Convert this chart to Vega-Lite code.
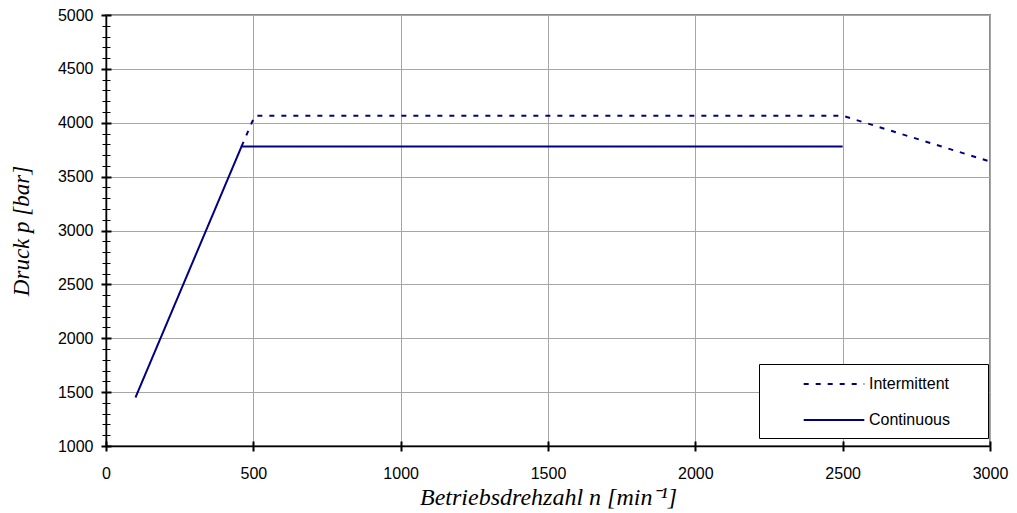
{
  "$schema": "https://vega.github.io/schema/vega-lite/v6.json",
  "width": 884,
  "height": 431,
  "autosize": {"type": "none"},
  "padding": {"left": 106, "top": 15, "right": 27, "bottom": 67},
  "background": "white",
  "config": {"view": {"stroke": "#8a8a8a", "strokeWidth": 2}, "font": "Liberation Sans"},
  "data": {"values": [
    {"n": 100, "p": 1450, "series": "Continuous"},
    {"n": 460, "p": 3780, "series": "Continuous"},
    {"n": 2500, "p": 3780, "series": "Continuous"},
    {"n": 460, "p": 3780, "series": "Intermittent"},
    {"n": 505, "p": 4065, "series": "Intermittent"},
    {"n": 2500, "p": 4065, "series": "Intermittent"},
    {"n": 3000, "p": 3640, "series": "Intermittent"}
  ]},
  "layer": [
    {
      "mark": {"type": "line", "strokeWidth": 2, "color": "#000080"},
      "encoding": {
        "x": {"field": "n", "type": "quantitative", "scale": {"domain": [0, 3000], "nice": false},
          "axis": {"orient": "bottom", "values": [0, 500, 1000, 1500, 2000, 2500, 3000], "format": "d", "labelFlush": false, "labelFont": "Liberation Sans", "labelFontSize": 16, "labelColor": "black", "labelPadding": 14, "tickSize": 5, "tickWidth": 2, "tickColor": "black", "domainColor": "black", "domainWidth": 1.5, "grid": true, "gridColor": "#a6a6a6", "gridWidth": 1,
            "title": "Betriebsdrehzahl n [min⁻¹]", "titleFont": "Liberation Serif", "titleFontStyle": "italic", "titleFontWeight": "normal", "titleFontSize": 24, "titleColor": "black", "titlePadding": 4}},
        "y": {"field": "p", "type": "quantitative", "scale": {"domain": [1000, 5000], "nice": false, "zero": false},
          "axis": {"orient": "left", "values": [1000, 1500, 2000, 2500, 3000, 3500, 4000, 4500, 5000], "format": "d", "labelFlush": false, "labelFont": "Liberation Sans", "labelFontSize": 16, "labelColor": "black", "labelPadding": 8, "tickSize": 5, "tickWidth": 2, "tickColor": "black", "domainColor": "black", "domainWidth": 1.5, "grid": true, "gridColor": "#a6a6a6", "gridWidth": 1,
            "title": "Druck p [bar]", "titleFont": "Liberation Serif", "titleFontStyle": "italic", "titleFontWeight": "normal", "titleFontSize": 23, "titleColor": "black", "titlePadding": 24}},
        "strokeDash": {"field": "series", "type": "nominal",
          "scale": {"domain": ["Intermittent", "Continuous"], "range": [[5, 7], [1, 0]]},
          "legend": {"title": "xx", "titleOrient": "right", "titleColor": "white", "titleFontSize": 16, "titlePadding": 10,
            "orient": "none", "legendX": 653, "legendY": 349, "fillColor": "white", "strokeColor": "black", "padding": 10,
            "symbolType": "M-3.5,0H3.5", "symbolSize": 300, "symbolStrokeColor": "#000080", "symbolStrokeWidth": 2, "symbolOffset": 55, "labelOffset": 25,
            "labelFont": "Liberation Sans", "labelFontSize": 16, "labelColor": "black", "rowPadding": 18}}
      }
    },
    {
      "mark": {"type": "line", "opacity": 0},
      "encoding": {
        "x": {"field": "n", "type": "quantitative", "scale": {"domain": [0, 3000], "nice": false},
          "axis": {"orient": "bottom", "offset": -5, "values": [0, 500, 1000, 1500, 2000, 2500, 3000], "labels": false, "domain": false, "grid": false, "tickSize": 5, "tickWidth": 2, "tickColor": "black", "title": null}},
        "y": {"field": "p", "type": "quantitative", "scale": {"domain": [1000, 5000], "nice": false, "zero": false},
          "axis": {"orient": "left", "offset": -5, "values": [1000, 1500, 2000, 2500, 3000, 3500, 4000, 4500, 5000], "labels": false, "domain": false, "grid": false, "tickSize": 5, "tickWidth": 2, "tickColor": "black", "title": null}},
        "detail": {"field": "series", "type": "nominal"}
      }
    },
    {
      "mark": {"type": "line", "opacity": 0},
      "encoding": {
        "x": {"field": "n", "type": "quantitative", "scale": {"domain": [0, 3000], "nice": false}, "axis": null},
        "y": {"field": "p", "type": "quantitative", "scale": {"domain": [1000, 5000], "nice": false, "zero": false},
          "axis": {"orient": "left", "values": [1100, 1200, 1300, 1400, 1600, 1700, 1800, 1900, 2100, 2200, 2300, 2400, 2600, 2700, 2800, 2900, 3100, 3200, 3300, 3400, 3600, 3700, 3800, 3900, 4100, 4200, 4300, 4400, 4600, 4700, 4800, 4900], "labels": false, "domain": false, "grid": false, "tickSize": 4, "tickWidth": 1, "tickColor": "black", "title": null}},
        "detail": {"field": "series", "type": "nominal"}
      }
    },
    {
      "mark": {"type": "line", "opacity": 0},
      "encoding": {
        "x": {"field": "n", "type": "quantitative", "scale": {"domain": [0, 3000], "nice": false}, "axis": null},
        "y": {"field": "p", "type": "quantitative", "scale": {"domain": [1000, 5000], "nice": false, "zero": false},
          "axis": {"orient": "left", "offset": -4, "values": [1100, 1200, 1300, 1400, 1600, 1700, 1800, 1900, 2100, 2200, 2300, 2400, 2600, 2700, 2800, 2900, 3100, 3200, 3300, 3400, 3600, 3700, 3800, 3900, 4100, 4200, 4300, 4400, 4600, 4700, 4800, 4900], "labels": false, "domain": false, "grid": false, "tickSize": 4, "tickWidth": 1, "tickColor": "black", "title": null}},
        "detail": {"field": "series", "type": "nominal"}
      }
    }
  ],
  "resolve": {"axis": {"x": "independent", "y": "independent"}}
}
